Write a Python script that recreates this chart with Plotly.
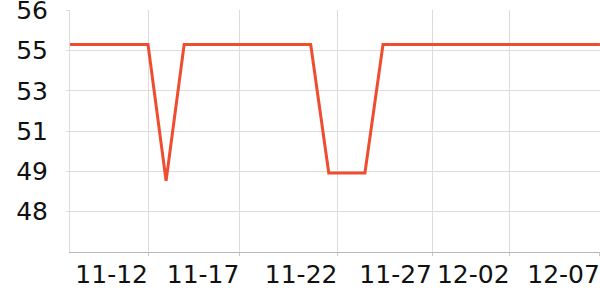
import plotly.graph_objects as go

dates = ["2023-11-%02d" % d for d in range(7, 31)] + ["2023-12-%02d" % d for d in range(1, 8)]
values = [54.75, 54.75, 54.75, 54.75, 54.75, 54.75, 49.0, 54.75, 54.75, 54.75,
          54.75, 54.75, 54.75, 54.75, 54.75, 49.33, 49.33, 49.33, 54.75, 54.75,
          54.75, 54.75, 54.75, 54.75, 54.75, 54.75, 54.75, 54.75, 54.75, 54.75, 54.75]

x_tickvals = ["2023-11-12 00:00", "2023-11-17 01:20", "2023-11-22 11:31",
              "2023-11-27 17:02", "2023-12-02 00:00", "2023-12-07 00:00"]
x_ticktext = ["11-12", "11-17", "11-22", "11-27", "12-02", "12-07"]

y_tickvals = [47.7, 49.4, 51.1, 52.8, 54.5, 56.2]
y_ticktext = ["48", "49", "51", "53", "55", "56"]

fig = go.Figure(go.Scatter(
    x=dates, y=values, mode="lines",
    line=dict(color="#f04c2f", width=3),
    hoverinfo="skip",
))

fig.update_layout(
    width=600, height=300,
    margin=dict(l=70, r=0, t=10, b=48, autoexpand=False),
    paper_bgcolor="white", plot_bgcolor="white",
    font=dict(family="DejaVu Sans", size=25, color="#111"),
    showlegend=False,
)
fig.update_xaxes(
    type="date", automargin=False,
    range=["2023-11-07 16:26", "2023-12-07 00:05"],
    tickmode="array", tickvals=x_tickvals, ticktext=x_ticktext,
    ticklabelposition="outside left", tickangle=0,
    ticklabeloverflow="allow", ticklabelshift=1,
    showgrid=True, gridcolor="#dcdcdc", gridwidth=1,
    showline=True, linecolor="#b8b8b8", linewidth=1,
    ticks="outside", ticklen=3, tickcolor="#c8c8c8",
    zeroline=False,
)
fig.update_yaxes(
    automargin=False,
    range=[46.0, 56.205],
    tickmode="array", tickvals=y_tickvals, ticktext=y_ticktext,
    ticklabeloverflow="allow",
    showgrid=True, gridcolor="#dcdcdc", gridwidth=1,
    showline=True, linecolor="#dcdcdc", linewidth=1,
    ticks="outside", ticklen=3, tickcolor="#dcdcdc",
    ticklabelstandoff=13,
    zeroline=False,
)

fig.write_html("out.html")
